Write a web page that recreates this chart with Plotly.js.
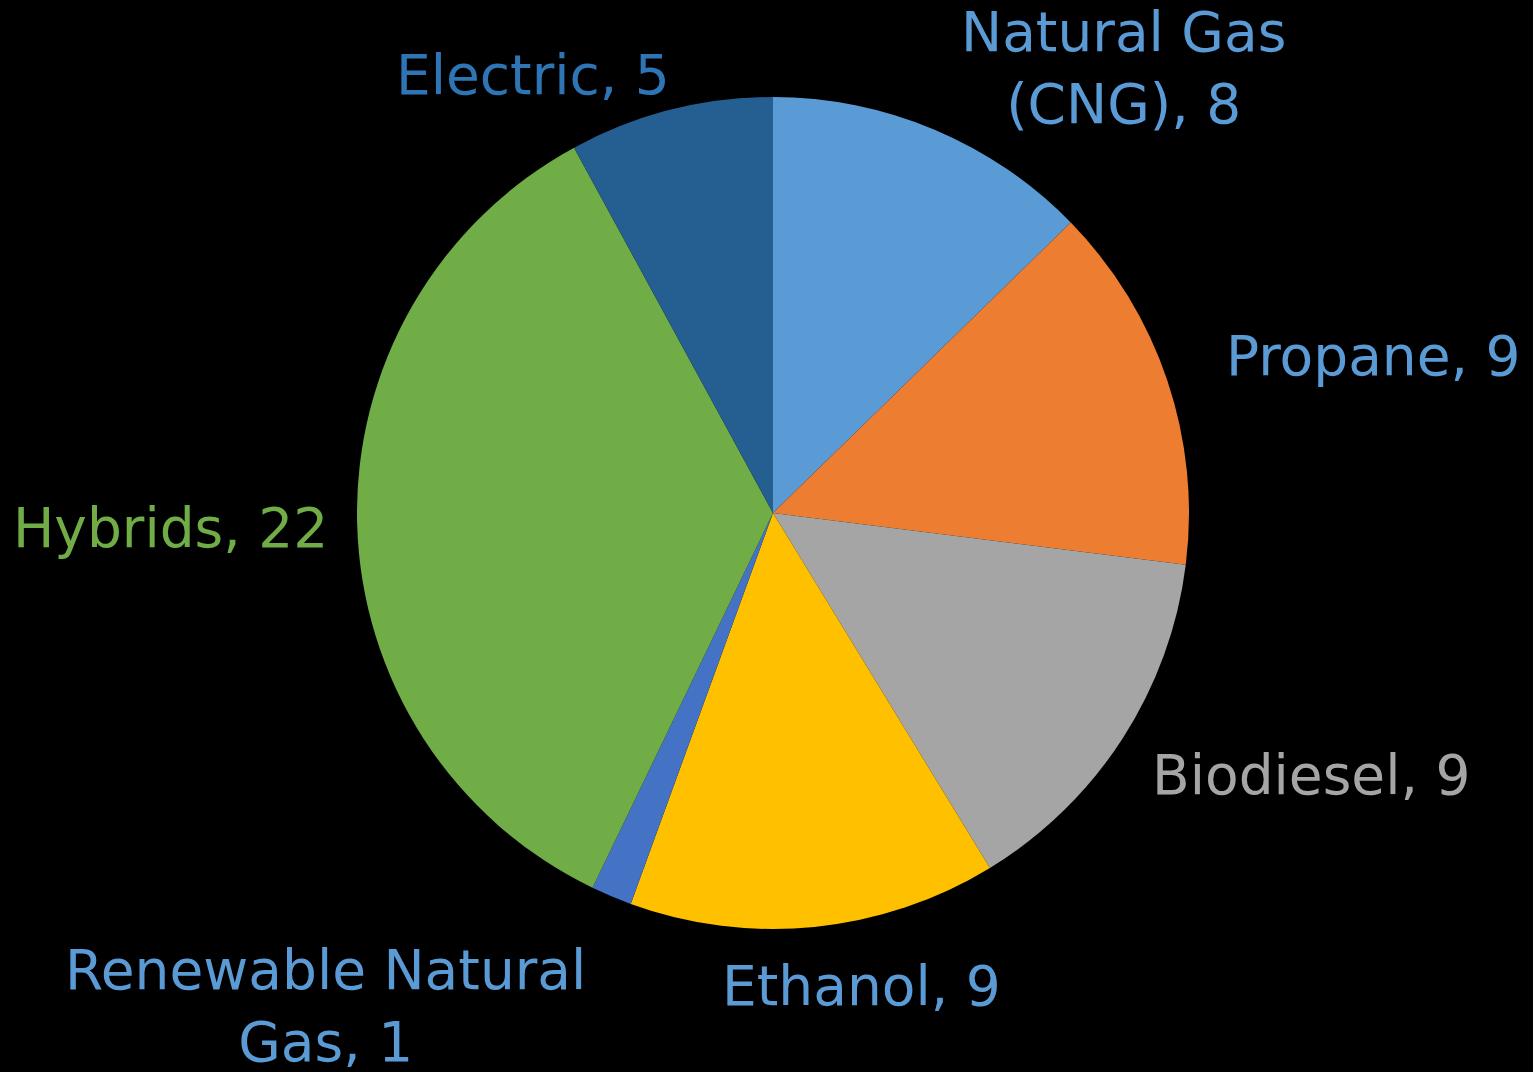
<!DOCTYPE html>
<html>
<head>
<meta charset="utf-8">
<script src="https://cdn.plot.ly/plotly-3.0.1.min.js"></script>
<style>html,body{margin:0;padding:0;background:#000;}#chart{width:1533px;height:1072px;}</style>
</head>
<body>
<div id="chart"></div>
<script>
const categories = ["Natural Gas (CNG)", "Propane", "Biodiesel", "Ethanol", "Renewable Natural Gas", "Hybrids", "Electric"];
const values = [8, 9, 9, 9, 1, 22, 5];
const sliceColors = ["#5B9BD5", "#ED7D31", "#A5A5A5", "#FFC000", "#4472C4", "#70AD47", "#255E91"];
const labelText = ["Natural Gas<br>(CNG), 8", "Propane, 9", "Biodiesel, 9", "Ethanol, 9", "Renewable Natural<br>Gas, 1", "Hybrids, 22", "Electric, 5"];
const labelColors = ["#5B9BD5", "#5B9BD5", "#A5A5A5", "#5B9BD5", "#5B9BD5", "#70AD47", "#2E75B6"];
const labelPos = [[1123, 68], [1373, 356], [1311, 775], [861, 986], [325, 1006], [170, 528], [533, 75]];

const W = 1533, H = 1072;
const cx = 773, cy = 513, r = 416;

const trace = {
  type: "pie",
  labels: categories,
  values: values,
  sort: false,
  direction: "clockwise",
  rotation: 0,
  textinfo: "none",
  hoverinfo: "label+value",
  marker: {colors: sliceColors, line: {width: 0}},
  domain: {x: [(cx - r) / W, (cx + r) / W], y: [1 - (cy + r) / H, 1 - (cy - r) / H]},
  showlegend: false
};

const annotations = categories.map((c, i) => ({
  text: labelText[i],
  x: labelPos[i][0] / W,
  y: 1 - labelPos[i][1] / H,
  xref: "paper", yref: "paper",
  xanchor: "center", yanchor: "middle",
  showarrow: false,
  font: {family: "DejaVu Sans", size: 55, color: labelColors[i]}
}));

const layout = {
  width: W, height: H,
  margin: {l: 0, r: 0, t: 0, b: 0},
  paper_bgcolor: "#000000",
  plot_bgcolor: "#000000",
  annotations: annotations
};

Plotly.newPlot("chart", [trace], layout, {displayModeBar: false, staticPlot: true});
</script>
</body>
</html>
